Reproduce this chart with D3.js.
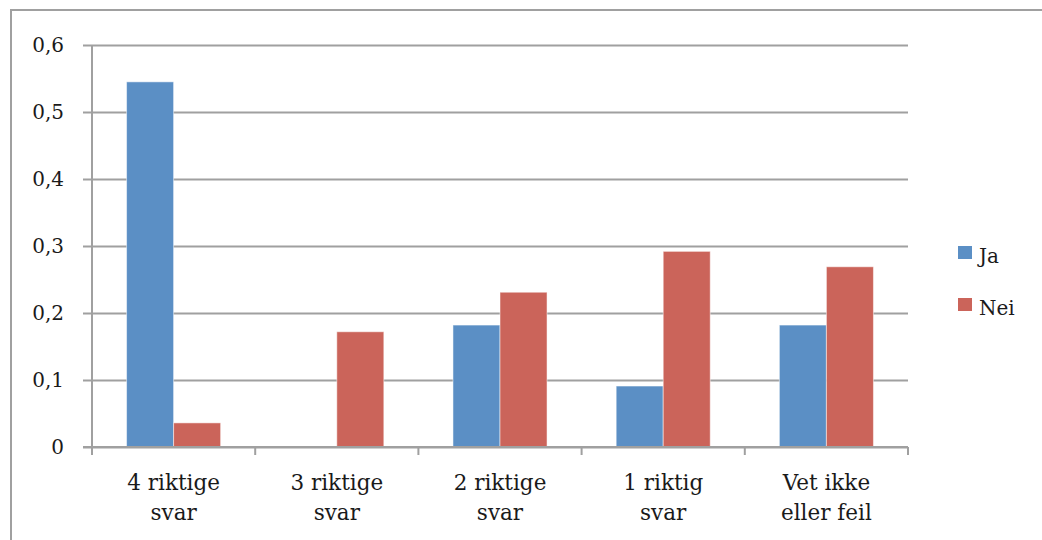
<!DOCTYPE html>
<html>
<head>
<meta charset="utf-8">
<script src="https://cdn.jsdelivr.net/npm/d3@7"></script>
<style>
  html, body { margin: 0; padding: 0; background: #fff; }
  svg text { font-family: "DejaVu Serif", "Liberation Serif", serif; fill: #1a1a1a; }
</style>
</head>
<body>
<svg id="chart" width="1042" height="540"></svg>
<script>
// Category labels (two lines each)
const categories = [
  ["4 riktige", "svar"],
  ["3 riktige", "svar"],
  ["2 riktige", "svar"],
  ["1 riktig", "svar"],
  ["Vet ikke", "eller feil"]
];
const seriesNames = ["Ja", "Nei"];
const jaValues  = [0.545, 0, 0.182, 0.091, 0.182];
const neiValues = [0.036, 0.172, 0.231, 0.292, 0.269];
const yTicks = [0, 0.1, 0.2, 0.3, 0.4, 0.5, 0.6];
const yTickLabels = ["0", "0,1", "0,2", "0,3", "0,4", "0,5", "0,6"];
const colors = ["#5b8fc5", "#cb645a"];

const svg = d3.select("#chart");
const gridColor = "#a0a0a0";

// outer frame (top and left edges visible)
svg.append("path")
  .attr("d", "M11,545 L11,10 L1050,10")
  .attr("fill", "none")
  .attr("stroke", gridColor)
  .attr("stroke-width", 2);

const plot = { left: 92, right: 908, top: 45, bottom: 447 };

const x = d3.scaleBand()
  .domain(d3.range(categories.length))
  .range([plot.left, plot.right])
  .paddingInner(0).paddingOuter(0);

const y = d3.scaleLinear().domain([0, 0.6]).range([plot.bottom, plot.top]);

const inner = d3.scaleBand()
  .domain(seriesNames)
  .range([0, x.bandwidth()])
  .paddingInner(0)
  .paddingOuter(0.735);

// horizontal gridlines with tick stubs to the left
const yG = svg.append("g")
  .attr("transform", `translate(${plot.right},0)`)
  .call(d3.axisLeft(y).tickValues(yTicks).tickSize(plot.right - plot.left + 9).tickFormat(""));
yG.select(".domain").remove();
yG.selectAll(".tick line").attr("stroke", gridColor).attr("stroke-width", 2);

// y tick labels
svg.append("g").selectAll("text")
  .data(yTicks)
  .join("text")
  .attr("x", 64)
  .attr("y", d => y(d))
  .attr("dy", "0.36em")
  .attr("text-anchor", "end")
  .attr("font-size", 20)
  .text((d, i) => yTickLabels[i]);

// bars
const groups = svg.append("g").selectAll("g")
  .data(categories.map((c, i) => ({ i, vals: [jaValues[i], neiValues[i]] })))
  .join("g")
  .attr("transform", d => `translate(${x(d.i)},0)`);

groups.selectAll("rect")
  .data(d => d.vals.map((v, k) => ({ k, v })))
  .join("rect")
  .filter(d => d.v > 0)
  .attr("x", d => inner(seriesNames[d.k]))
  .attr("width", inner.bandwidth())
  .attr("y", d => y(d.v))
  .attr("height", d => y(0) - y(d.v))
  .attr("fill", d => colors[d.k])
  .attr("stroke", "#ffffff")
  .attr("stroke-opacity", 0.5)
  .attr("stroke-width", 1);

// vertical axis line
svg.append("line")
  .attr("x1", plot.left).attr("x2", plot.left)
  .attr("y1", plot.top).attr("y2", plot.bottom)
  .attr("stroke", gridColor).attr("stroke-width", 2);

// x axis with category boundary ticks
const xG = svg.append("g").attr("transform", `translate(0,${plot.bottom})`);
xG.append("line")
  .attr("x1", plot.left - 9).attr("x2", plot.right)
  .attr("stroke", gridColor).attr("stroke-width", 2);
const bounds = d3.range(categories.length + 1).map(i => i < categories.length ? x(i) : plot.right);
xG.selectAll("line.tick")
  .data(bounds)
  .join("line")
  .attr("class", "tick")
  .attr("x1", d => d).attr("x2", d => d)
  .attr("y1", 0).attr("y2", 8)
  .attr("stroke", gridColor).attr("stroke-width", 2);

// category labels
const labels = svg.append("g").selectAll("text")
  .data(categories)
  .join("text")
  .attr("text-anchor", "middle")
  .attr("font-size", 21.5)
  .attr("transform", (d, i) => `translate(${x(i) + x.bandwidth() / 2},490)`);
labels.selectAll("tspan")
  .data(d => d)
  .join("tspan")
  .attr("x", 0)
  .attr("y", (d, j) => j * 30)
  .text(d => d);

// legend
const legend = svg.append("g").selectAll("g")
  .data(seriesNames)
  .join("g")
  .attr("transform", (d, i) => `translate(958,${246 + i * 52})`);
legend.append("rect")
  .attr("width", 14).attr("height", 13)
  .attr("fill", (d, i) => colors[i]);
legend.append("text")
  .attr("x", 21).attr("y", 17)
  .attr("font-size", 20)
  .text(d => d);
</script>
</body>
</html>
